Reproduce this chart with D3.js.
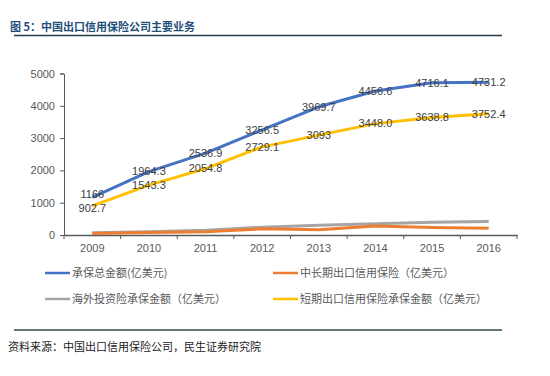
<!DOCTYPE html>
<html><head><meta charset="utf-8">
<script src="https://cdn.jsdelivr.net/npm/d3@7"></script>
<style>body{margin:0;background:#fff}svg{display:block}</style>
</head><body>
<script>
const years = ["2009","2010","2011","2012","2013","2014","2015","2016"];
const totalVals = [1166, 1964.3, 2536.9, 3256.5, 3969.7, 4456.6, 4716.1, 4731.2];
const totalLabels = ["1166","1964.3","2536.9","3256.5","3969.7","4456.6","4716.1","4731.2"];
const midLongVals = [50, 80, 100, 190, 160, 280, 230, 210];
const overseasVals = [70, 100, 150, 240, 300, 350, 395, 415];
const shortVals = [902.7, 1543.3, 2054.8, 2729.1, 3093, 3448.0, 3638.8, 3752.4];
const shortLabels = ["902.7","1543.3","2054.8","2729.1","3093","3448.0","3638.8","3752.4"];
const yTicks = [0, 1000, 2000, 3000, 4000, 5000];
const seriesNames = ["承保总金额(亿美元)", "中长期出口信用保险（亿美元）", "海外投资险承保金额（亿美元）", "短期出口信用保险承保金额（亿美元）"];

const W = 550, H = 376;
const svg = d3.select("body").append("svg").attr("width", W).attr("height", H);
const cjk = "'Noto Sans CJK SC', sans-serif";
const lat = "'Liberation Sans', Arial, sans-serif";

// title
svg.append("text").attr("x", 10).attr("y", 31).text("图 5：中国出口信用保险公司主要业务")
  .attr("font-family", cjk).attr("font-size", 11).attr("font-weight", "bold").attr("fill", "#1f4e79");
svg.append("line").attr("x1", 14).attr("x2", 502).attr("y1", 35.5).attr("y2", 35.5).attr("stroke", "#2b3b46").attr("stroke-width", 1.5);

const x = d3.scaleBand().domain(years).range([64, 517]);
const y = d3.scaleLinear().domain([0, 5000]).range([235, 73.5]);
const cx = d => x(d) + x.bandwidth() / 2;

// y axis
const ya = svg.append("g").attr("transform", "translate(64,0)")
  .call(d3.axisLeft(y).tickValues(yTicks).tickSize(4).tickPadding(5).tickFormat(d3.format("d")));
ya.select(".domain").attr("stroke", "#595959");
ya.selectAll(".tick line").attr("stroke", "#595959");
ya.selectAll("text").attr("font-family", lat).attr("font-size", 11).attr("fill", "#595959");

// x axis
const xa = svg.append("g").attr("transform", "translate(0,235)")
  .call(d3.axisBottom(x).tickSize(0).tickPadding(9));
xa.select(".domain").attr("stroke", "#595959").attr("stroke-width", 1.5);
xa.selectAll("text").attr("font-family", lat).attr("font-size", 11).attr("fill", "#595959");
const bounds = years.map(d => x(d)).concat([x(years[years.length-1]) + x.bandwidth()]);
xa.selectAll(".bt").data(bounds).enter().append("line")
  .attr("x1", d => d).attr("x2", d => d).attr("y1", 0).attr("y2", 4).attr("stroke", "#595959");

const line = d3.line().x((d, i) => cx(years[i])).y(d => y(d));
const series = [
  {vals: overseasVals, color: "#A5A5A5"},
  {vals: midLongVals, color: "#ED7D31"},
  {vals: shortVals, color: "#FFC000"},
  {vals: totalVals, color: "#4472C4"}
];
series.forEach(s => {
  svg.append("path").datum(s.vals).attr("d", line).attr("fill", "none")
    .attr("stroke", s.color).attr("stroke-width", 3).attr("stroke-linejoin", "round");
});

// labels centred on points; push apart pairs that are too close
const minGap = 14;
function labelY(i, upper) {
  const a = y(totalVals[i]), b = y(shortVals[i]);
  const gap = b - a;
  if (gap >= minGap) return upper ? a : b;
  const shift = (minGap - gap) / 2;
  return upper ? a - shift : b + shift;
}
function labels(vals, labs, upper) {
  svg.selectAll(null).data(vals).enter().append("text")
    .attr("x", (d, i) => cx(years[i])).attr("y", (d, i) => labelY(i, upper)).attr("dy", "0.35em")
    .attr("text-anchor", "middle").text((d, i) => labs[i])
    .attr("font-family", lat).attr("font-size", 11).attr("fill", "#404040");
}
labels(totalVals, totalLabels, true);
labels(shortVals, shortLabels, false);

// legend
const legColors = ["#4472C4", "#ED7D31", "#A5A5A5", "#FFC000"];
const legPos = [[45, 273], [273, 273], [45, 299], [273, 299]];
seriesNames.forEach((n, i) => {
  const [lx, ly] = legPos[i];
  svg.append("line").attr("x1", lx).attr("x2", lx + 25).attr("y1", ly).attr("y2", ly)
    .attr("stroke", legColors[i]).attr("stroke-width", 2.5);
  svg.append("text").attr("x", lx + 27).attr("y", ly).attr("dy", "0.35em").text(n)
    .attr("font-family", cjk).attr("font-size", 11).attr("fill", "#595959");
});

svg.append("line").attr("x1", 14).attr("x2", 502).attr("y1", 330).attr("y2", 330).attr("stroke", "#2b4b4b").attr("stroke-width", 1.5);
svg.append("text").attr("x", 8).attr("y", 351).text("资料来源：中国出口信用保险公司，民生证券研究院")
  .attr("font-family", cjk).attr("font-size", 11).attr("fill", "#222");
</script>
</body></html>
